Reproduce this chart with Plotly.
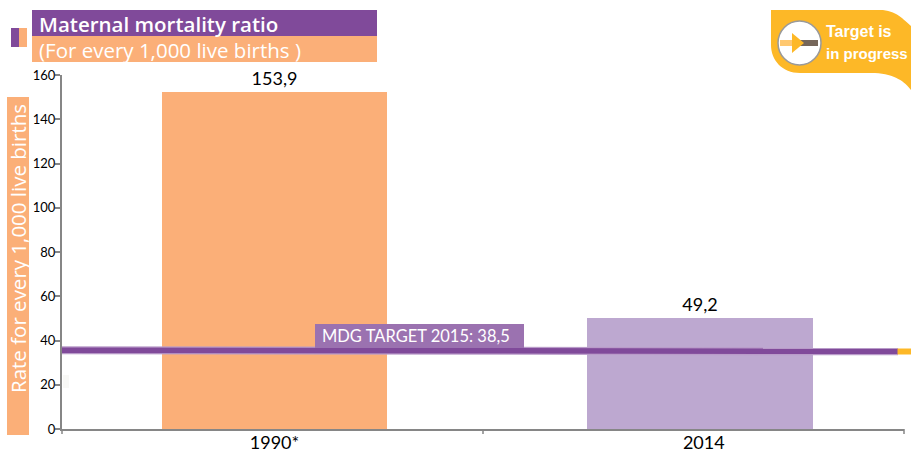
import plotly.graph_objects as go

categories = ["1990*", "2014"]
category_positions = [0, 1]
label_positions = [0, 1.009]
bar_heights = [152.3, 50.2]
value_labels = ["153,9", "49,2"]
bar_colors = ["#FBAF78", "#BDA8D0"]
target_x = [-0.4993, 1.4655]
target_y = [35.6, 35.1]
y_ticks = [0, 20, 40, 60, 80, 100, 120, 140, 160]

PURPLE = "#804A9A"
ORANGE = "#FBAF78"
YELLOW = "#FDB827"
W, H = 911, 449
L, R, T, B = 62, 7, 75, 20
PW, PH = W - L - R, H - T - B


def px(x):
    return (x - L) / PW


def py(y):
    return (H - B - y) / PH


def rect(x0, y0, x1, y1, color):
    return dict(type="rect", xref="paper", yref="paper", x0=px(x0), x1=px(x1),
                y0=py(y0), y1=py(y1), fillcolor=color, line_width=0, layer="above")


def path(points):
    parts = []
    for cmd, coords in points:
        parts.append(cmd + " ".join(f"{px(a):.5f},{py(b):.5f}" for a, b in coords))
    return " ".join(parts) + " Z"


def note(x, y, text, size, color="white", family="Open Sans", anchor="left", angle=0, weight=None):
    f = dict(size=size, color=color, family=family)
    if weight:
        f["weight"] = weight
    return dict(xref="paper", yref="paper", x=px(x), y=py(y), text=text, showarrow=False,
                xanchor=anchor, yanchor="middle", textangle=angle, font=f, align="left")


fig = go.Figure()
fig.add_trace(go.Bar(x=category_positions, y=bar_heights, width=0.529,
                     marker=dict(color=bar_colors, line_width=0),
                     text=value_labels, textposition="outside", cliponaxis=False,
                     textfont=dict(family="Lato", size=18, color="black"), showlegend=False))
fig.add_trace(go.Scatter(x=target_x, y=target_y, mode="lines", cliponaxis=False,
                         line=dict(color="#B99BC9", width=8), showlegend=False))
fig.add_trace(go.Scatter(x=target_x, y=target_y, mode="lines", cliponaxis=False,
                         line=dict(color=PURPLE, width=5.5), showlegend=False))

shapes = [
    rect(897.5, 348.5, 911, 354.5, YELLOW),
    rect(11, 28, 19, 47, PURPLE),
    rect(19, 28, 27, 47, ORANGE),
    rect(32, 10, 377, 36, PURPLE),
    rect(32, 36, 377, 62, ORANGE),
    rect(7, 97, 29, 435, ORANGE),
    rect(315, 324, 524, 348, "#9B72B0"),
    rect(63, 375, 69, 388, "#F8F8F6"),
]
for x in (62, 483, 904):
    shapes.append(dict(type="line", xref="paper", yref="paper", x0=px(x), x1=px(x),
                       y0=py(429), y1=py(434), line=dict(color="#868686", width=1.5), layer="above"))

badge = [("M", [(771, 10)]), ("L", [(880, 10)]), ("C", [(896, 10), (904, 20), (911, 26)]),
         ("L", [(911, 90)]), ("C", [(905, 82), (895, 74), (875, 73)]), ("L", [(800, 73)]),
         ("C", [(782, 73), (771, 60), (771, 45)])]
shapes.append(dict(type="path", xref="paper", yref="paper", path=path(badge),
                   fillcolor=YELLOW, line_width=0, layer="above"))
shapes.append(dict(type="circle", xref="paper", yref="paper", x0=px(778), x1=px(821),
                   y0=py(65), y1=py(21), fillcolor="white",
                   line=dict(color="#9A9A9A", width=1.5), layer="above"))
shapes.append(dict(type="line", xref="paper", yref="paper", x0=px(782), x1=px(818),
                   y0=py(43), y1=py(43), line=dict(color="#76675A", width=6), layer="above"))
shapes.append(dict(type="line", xref="paper", yref="paper", x0=px(780), x1=px(795),
                   y0=py(43), y1=py(43), line=dict(color="#FFC870", width=6), layer="above"))
shapes.append(dict(type="path", xref="paper", yref="paper",
                   path=path([("M", [(792, 33)]), ("L", [(804, 43)]), ("L", [(792, 53)])]),
                   fillcolor=YELLOW, line_width=0, layer="above"))

annotations = [
    note(37, 24, "Maternal mortality ratio", 20.5, weight=600),
    note(37, 50, "(For every 1,000 live births )", 20.5),
    note(18, 249, "Rate for every 1,000 live births", 20.5, anchor="center", angle=-90),
    note(320, 336, "MDG TARGET 2015: 38,5", 16.5, family="Lato"),
    note(824, 31, "<b>Target is</b>", 16, family="Liberation Sans"),
    note(824, 54, "<b>in progress</b>", 15, family="Liberation Sans"),
]

fig.update_layout(
    width=W, height=H, margin=dict(l=L, r=R, t=T, b=B, pad=0, autoexpand=False),
    paper_bgcolor="white", plot_bgcolor="white", showlegend=False, bargap=0,
    shapes=shapes, annotations=annotations,
    xaxis=dict(range=[-0.4993, 1.4795], tickmode="array", tickvals=label_positions,
               ticktext=categories, ticks="", showgrid=False, zeroline=False, automargin=False,
               ticklabelstandoff=-4,
               showline=True, linecolor="#868686", linewidth=2,
               tickfont=dict(family="Lato", size=18, color="black")),
    yaxis=dict(range=[0, 160], tickmode="array", tickvals=y_ticks, ticks="outside", ticklen=5,
               tickcolor="#868686", tickwidth=1.5, showgrid=False, zeroline=False, automargin=False,
               ticklabelstandoff=-3,
               showline=True, linecolor="#868686", linewidth=2,
               tickfont=dict(family="Lato", size=13, color="black")),
)

fig.write_html("out.html", post_script="document.body.style.margin='0';document.body.style.overflow='hidden';",
               config={"displayModeBar": False})
